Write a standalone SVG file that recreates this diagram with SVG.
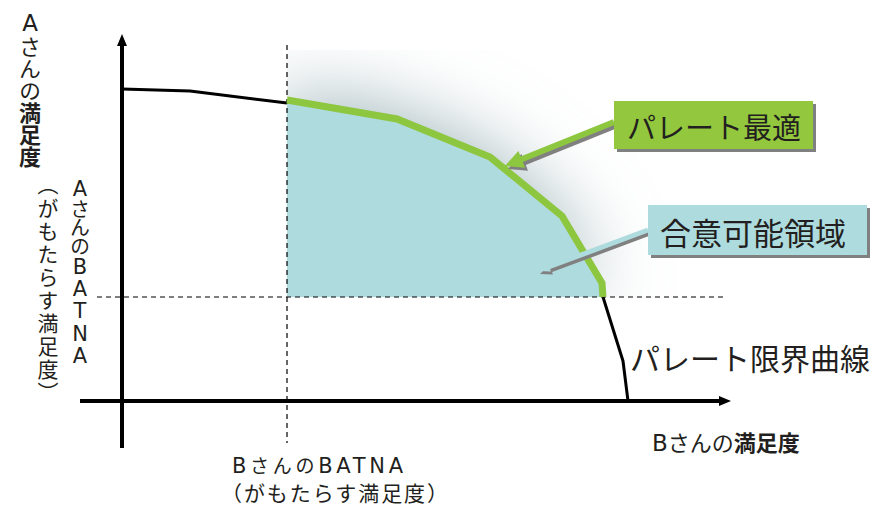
<svg xmlns="http://www.w3.org/2000/svg" width="892" height="506" viewBox="0 0 892 506">
<defs>
<style>
text{font-family:"Noto Sans CJK JP","Noto Sans",sans-serif;fill:#231f20}
.b{font-weight:bold}
.L{font-family:"DejaVu Sans",sans-serif}
.v{writing-mode:vertical-rl}
.u{text-orientation:upright}
.dash{stroke:#000;stroke-width:1.2;stroke-dasharray:5 4;fill:none}
.curve{stroke:#000;stroke-width:3;fill:none;stroke-linejoin:round}
.axis{stroke:#000;stroke-width:4;fill:none}
.shadow{fill:#808080}
</style>
<filter id="blur" x="-50%" y="-50%" width="200%" height="200%"><feGaussianBlur stdDeviation="40"/></filter>
<clipPath id="glowclip"><rect x="287" y="50" width="430" height="247"/></clipPath>
</defs>
<rect width="892" height="506" fill="#fff"/>
<g id="glow" clip-path="url(#glowclip)">
<polygon transform="translate(-8,-8)" points="287,103 397,122 490,161 560,219 600,285 601,297 287,297" fill="#94adb2" filter="url(#blur)"/>
</g>
<g id="region">
<polygon points="287,103 397,122 490,161 560,219 600,285 601,297 287,297" fill="#aedbde"/>
</g>
<g id="connectors">
<line class="dash" x1="287" y1="45" x2="287" y2="443"/>
<line class="dash" x1="97" y1="297" x2="723" y2="297"/>
<polyline class="curve" points="122,89 190,91 287,103"/>
<polyline class="curve" points="603,297 623,361 628,401"/>
<polyline points="287,100 397,119 490,157 562,216 602,283 603,297" fill="none" stroke="#8dc63f" stroke-width="7" stroke-linejoin="miter"/>
<line class="axis" x1="122" y1="448" x2="122" y2="44"/>
<polygon points="122,34 117,46 127,46" fill="#000"/>
<line class="axis" x1="80" y1="401" x2="721" y2="401"/>
<polygon points="731,401 719,396 719,406" fill="#000"/>
</g>
<g id="pareto-optimal">
<polygon class="shadow" transform="translate(3,3)" points="612.9,119.2 520.6,156.5 518.4,150.9 505,166 525,167.7 522.8,162.1 615.1,124.8"/>
<polygon fill="#8dc63f" points="612.9,119.2 520.6,156.5 518.4,150.9 505,166 525,167.7 522.8,162.1 615.1,124.8"/>
<rect class="shadow" x="617" y="104" width="199" height="48"/>
<rect x="614" y="101" width="199" height="48" fill="#93c83e"/>
<text x="627" y="139" font-size="29">パレート最適</text>
</g>
<g id="feasible-region">
<polygon class="shadow" transform="translate(2,3)" points="647.1,227.7 548.3,264.5 547.5,262.1 538,271 550.9,271.5 550.1,269.1 648.9,232.3"/>
<polygon fill="#aedbde" points="647.1,227.7 548.3,264.5 547.5,262.1 538,271 550.9,271.5 550.1,269.1 648.9,232.3"/>
<rect class="shadow" x="651" y="208" width="219" height="50"/>
<rect x="648" y="205" width="219" height="50" fill="#aedbde"/>
<text x="660" y="245" font-size="31">合意可能領域</text>
</g>
<g id="frontier-label">
<text x="630" y="370" font-size="30">パレート限界曲線</text>
</g>
<g id="x-label">
<text x="652" y="451" font-size="22"><tspan class="L" font-size="23">B</tspan>さんの<tspan class="b">満足度</tspan></text>
</g>
<g id="b-batna">
<text x="232" y="473" font-size="19" textLength="171" lengthAdjust="spacing"><tspan class="L" font-size="21">B</tspan>さんの<tspan class="L" font-size="21">BATNA</tspan></text>
<text x="221" y="501" font-size="21" textLength="227" lengthAdjust="spacing">（がもたらす満足度）</text>
</g>
<g id="y-label">
<text class="v u" x="30" y="10" font-size="22"><tspan class="L" font-size="23">A</tspan>さんの<tspan class="b">満足度</tspan></text>
</g>
<g id="a-batna">
<text class="v u" x="80" y="177" font-size="20" textLength="191" lengthAdjust="spacing"><tspan class="L" font-size="21">A</tspan>さんの<tspan class="L" font-size="21">BATNA</tspan></text>
<text class="v" x="48" y="174" font-size="21" textLength="229" lengthAdjust="spacing">（がもたらす満足度）</text>
</g>
</svg>
